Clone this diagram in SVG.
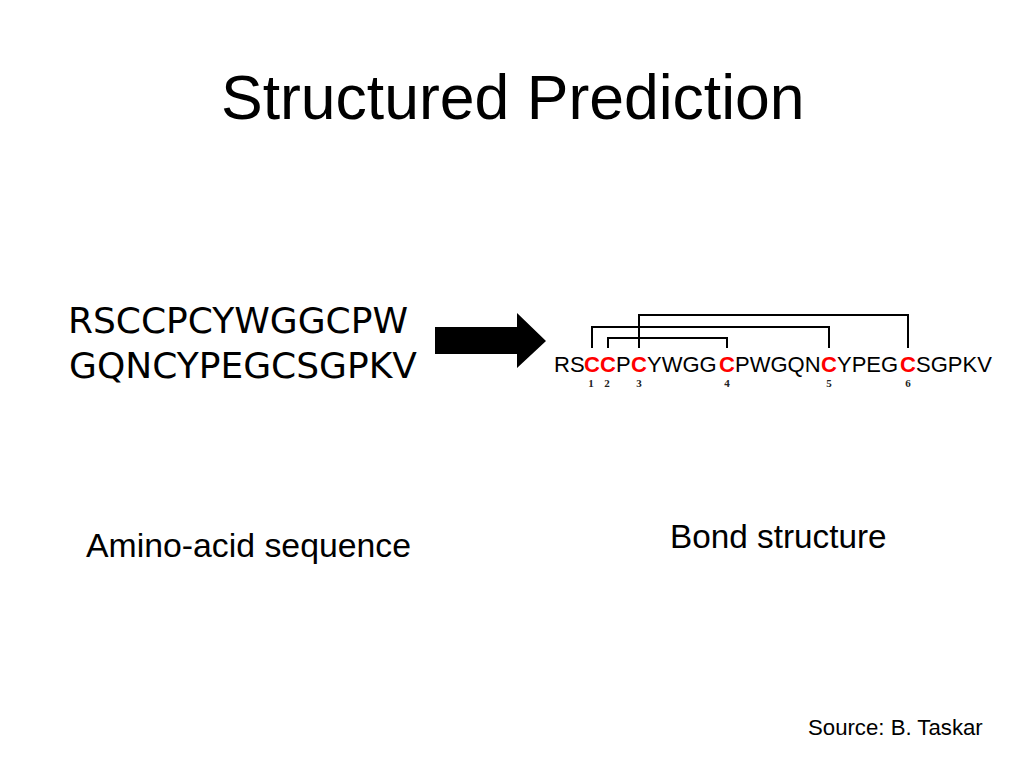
<svg xmlns="http://www.w3.org/2000/svg" width="1024" height="768" viewBox="0 0 1024 768">
<style>
.sans{font-family:"Liberation Sans",Arial,sans-serif;fill:#000}
.seq{font-family:"DejaVu Sans",Verdana,sans-serif;font-size:36px;fill:#000}
.bs{font-family:"Liberation Sans",Arial,sans-serif;font-size:22px;fill:#000}
.red{fill:#ff0000;font-weight:bold}
.num{font-family:"Liberation Serif","Times New Roman",serif;font-size:11px;font-weight:bold;fill:#222;text-anchor:middle}
.bond{fill:none;stroke:#000;stroke-width:2}
</style>
<rect width="1024" height="768" fill="#fff"/>
<g id="title"><text class="sans" x="221" y="119" font-size="62.5">Structured Prediction</text></g>
<g id="amino-sequence">
<text class="seq" x="68" y="333" textLength="340" lengthAdjust="spacing">RSCCPCYWGGCPW</text>
<text class="seq" x="69" y="378" textLength="348" lengthAdjust="spacing">GQNCYPEGCSGPKV</text>
</g>
<g id="arrow"><polygon points="435,327 517,327 517,313 546,341 517,368 517,354 435,354" fill="#000"/></g>
<g id="bond-structure">
<text class="bs" y="372"><tspan x="554">RS</tspan><tspan x="584" class="red">C</tspan><tspan x="600" class="red">C</tspan><tspan x="616">P</tspan><tspan x="631" class="red">C</tspan><tspan x="647">YWGG</tspan><tspan x="719" class="red">C</tspan><tspan x="735">PWGQN</tspan><tspan x="821" class="red">C</tspan><tspan x="837">YPEG</tspan><tspan x="900" class="red">C</tspan><tspan x="916">SGPKV</tspan></text>
<text class="num" x="591" y="387">1</text>
<text class="num" x="607" y="387">2</text>
<text class="num" x="639" y="387">3</text>
<text class="num" x="727" y="387">4</text>
<text class="num" x="829" y="387">5</text>
<text class="num" x="908" y="387">6</text>
</g>
<g id="connectors">
<polyline class="bond" points="592,348 592,327 829,327 829,348"/>
<polyline class="bond" points="608,348 608,338 727,338 727,348"/>
<polyline class="bond" points="639,348 639,315 908,315 908,348"/>
</g>
<g id="label-amino"><text class="sans" x="86" y="557" font-size="33.8">Amino-acid sequence</text></g>
<g id="label-bond"><text class="sans" x="670" y="548" font-size="33.3">Bond structure</text></g>
<g id="source"><text class="sans" x="808" y="735" font-size="22.2">Source: B. Taskar</text></g>
</svg>
